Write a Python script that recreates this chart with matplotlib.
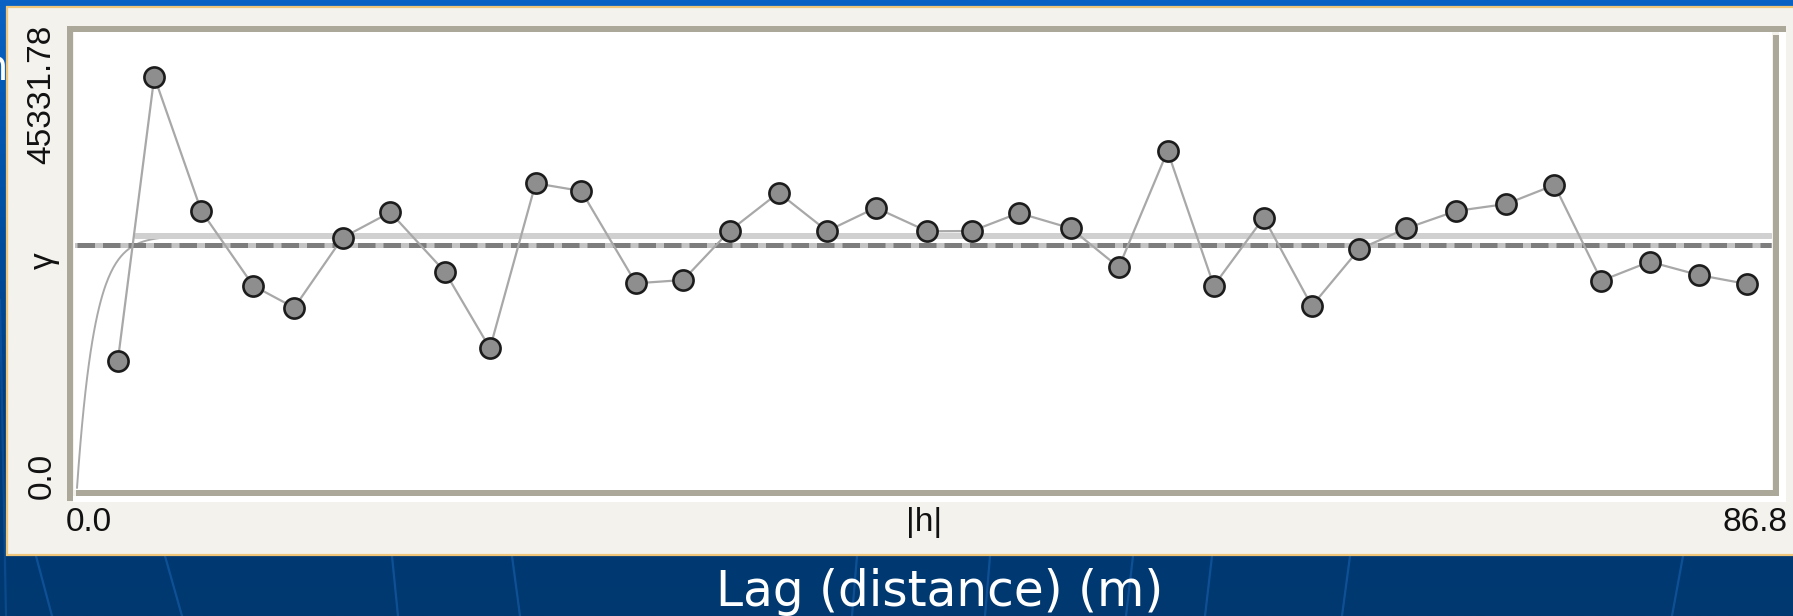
import numpy as np
import matplotlib
matplotlib.use("Agg")
import matplotlib.pyplot as plt
from matplotlib.patches import Rectangle
from matplotlib.colors import LinearSegmentedColormap

# Experimental semivariogram: lag distance (m) and semivariance
lag = [2.09, 3.96, 6.37, 9.03, 11.13, 13.61, 16.05, 18.85, 21.16, 23.50,
       25.84, 28.64, 31.06, 33.45, 35.95, 38.44, 40.93, 43.57, 45.86, 48.26,
       50.92, 53.38, 55.88, 58.25, 60.81, 63.27, 65.69, 68.12, 70.66, 73.23,
       75.70, 78.11, 80.58, 83.09, 85.57]
gamma = [12625, 40888, 27537, 20111, 17924, 24882, 27407, 21502, 13888, 30290,
         29525, 20349, 20677, 25578, 29356, 25548, 27865, 25519, 25548, 27338,
         25817, 21940, 33501, 20111, 26871, 18093, 23729, 25817, 27537, 28232,
         30121, 20608, 22496, 21174, 20280]

# Fitted exponential model and sample variance
model_sill = 25080
model_scale = 0.9
sample_variance = 24190

x_max = 86.8
y_max = 45331.78
x_tick_labels = ["0.0", "86.8"]
y_tick_labels = ["0.0", "45331.78"]
x_axis_name = "|h|"
y_axis_name = "\u03b3"
caption = "Lag (distance) (m)"

W, H = 1793, 616
fig = plt.figure(figsize=(W / 100, H / 100), dpi=100)

# Full-figure canvas in pixel coordinates
bg = fig.add_axes([0, 0, 1, 1])
bg.set_xlim(0, W)
bg.set_ylim(H, 0)
bg.axis("off")

cmap = LinearSegmentedColormap.from_list("slide", ["#0a62c4", "#0050a4", "#003d7e", "#00386f"])
grad = np.linspace(0, 1, 256).reshape(-1, 1)
bg.imshow(grad, cmap=cmap, extent=[0, W, H, 0], aspect="auto", zorder=0)

# faint decorative streaks on the slide background
streaks = [(36, 52), (165, 182), (392, 398), (512, 520), (857, 852), (990, 985),
           (1133, 1126), (1212, 1205), (1350, 1342), (1683, 1672)]
for xt, xb in streaks:
    bg.plot([xt, xb], [556, 616], color="#1a63b4", lw=1.6, alpha=0.55, zorder=1)
bg.plot([0, 6], [300, 616], color="#1a63b4", lw=1.6, alpha=0.4, zorder=1)

bg.text(8, 68, "n", color="white", fontsize=30, ha="right", va="center", zorder=1)

# dialog panel
bg.add_patch(Rectangle((7, 7), W, 548, facecolor="#f3f2ed", edgecolor="#f0c67a",
                       lw=1.6, zorder=2))

# sunken plot frame
frame = "#aca899"
bg.add_patch(Rectangle((73, 496), 1713, 6, facecolor="white", edgecolor="none", zorder=3))
bg.add_patch(Rectangle((1779, 29), 7, 473, facecolor="white", edgecolor="none", zorder=3))
bg.add_patch(Rectangle((67, 26), 1719, 6, facecolor=frame, edgecolor="none", zorder=4))
bg.add_patch(Rectangle((67, 26), 6, 475, facecolor=frame, edgecolor="none", zorder=4))
bg.add_patch(Rectangle((76, 490), 1703, 6, facecolor=frame, edgecolor="none", zorder=4))
bg.add_patch(Rectangle((1773, 35), 6, 461, facecolor=frame, edgecolor="none", zorder=4))

tick_font = dict(family=["Liberation Sans", "DejaVu Sans"], fontsize=24, color="#111111")
bg.text(42, 25, y_tick_labels[1], rotation=90, ha="center", va="top", zorder=5, **tick_font)
bg.text(42, 499, y_tick_labels[0], rotation=90, ha="center", va="bottom", zorder=5, **tick_font)
bg.text(44, 261, y_axis_name, rotation=90, ha="center", va="center", zorder=5, **tick_font)
bg.text(66, 507, x_tick_labels[0], ha="left", va="top", zorder=5, **tick_font)
bg.text(1788, 507, x_tick_labels[1], ha="right", va="top", zorder=5, **tick_font)
bg.text(924, 507, x_axis_name, ha="center", va="top", zorder=5, **tick_font)

bg.text(940, 592, caption, color="white", fontsize=35, family="DejaVu Sans",
        ha="center", va="center", zorder=5)

# plotting area
x0, x1, y0, y1 = 74, 1772, 32, 490
ax = fig.add_axes([x0 / W, (H - y1) / H, (x1 - x0) / W, (y1 - y0) / H])
ax.set_facecolor("white")
px_x = (1771 - 77) / x_max
px_y = (488 - 32) / y_max
ax.set_xlim(-(77 - x0) / px_x, x_max + (x1 - 1771) / px_x)
ax.set_ylim(-(y1 - 488) / px_y, y_max)
ax.set_xticks([])
ax.set_yticks([])
for s in ax.spines.values():
    s.set_visible(False)
ax.set_zorder(6)

h = np.linspace(0, x_max, 2000)
model = model_sill * (1 - np.exp(-h / model_scale))
ax.plot(h, model, color="#a9a9a9", lw=1.4, zorder=2, solid_capstyle="round")
ax.plot([3.0, x_max], [model_sill, model_sill], color="#d0d0d0", lw=4.3,
        solid_capstyle="round", zorder=2)

ax.plot([0, x_max], [sample_variance, sample_variance], color="#c4c4c4", lw=3.6, zorder=3)
ax.plot([0, x_max], [sample_variance, sample_variance], color="#7d7d7d", lw=3.6,
        linestyle=(0, (3.5, 1.6)), dash_capstyle="butt", zorder=3)

ax.plot(lag, gamma, color="#a8a8a8", lw=1.6, zorder=4)
ax.plot(lag, gamma, linestyle="none", marker="o", markersize=14.5,
        markerfacecolor="#8e8e8e", markeredgecolor="#1c1c1c", markeredgewidth=1.9,
        zorder=5)

fig.savefig("out.png", dpi=100)
